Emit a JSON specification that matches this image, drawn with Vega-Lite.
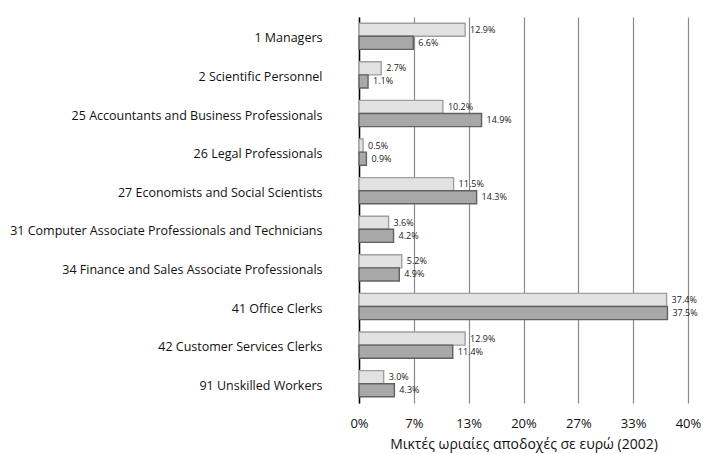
{
  "$schema": "https://vega.github.io/schema/vega-lite/v6.json",
  "width": 329,
  "height": 386,
  "autosize": {"type": "none"},
  "padding": {"left": 359, "top": 17, "right": 15, "bottom": 51},
  "background": "white",
  "config": {
    "view": {"stroke": null},
    "font": "Open Sans"
  },
  "data": {
    "values": [
      {"cat": "1 Managers", "series": "a", "v": 0.129},
      {"cat": "1 Managers", "series": "b", "v": 0.066},
      {"cat": "2 Scientific Personnel", "series": "a", "v": 0.027},
      {"cat": "2 Scientific Personnel", "series": "b", "v": 0.011},
      {"cat": "25 Accountants and Business Professionals", "series": "a", "v": 0.102},
      {"cat": "25 Accountants and Business Professionals", "series": "b", "v": 0.149},
      {"cat": "26 Legal Professionals", "series": "a", "v": 0.005},
      {"cat": "26 Legal Professionals", "series": "b", "v": 0.009},
      {"cat": "27 Economists and Social Scientists", "series": "a", "v": 0.115},
      {"cat": "27 Economists and Social Scientists", "series": "b", "v": 0.143},
      {"cat": "31 Computer Associate Professionals and Technicians", "series": "a", "v": 0.036},
      {"cat": "31 Computer Associate Professionals and Technicians", "series": "b", "v": 0.042},
      {"cat": "34 Finance and Sales Associate Professionals", "series": "a", "v": 0.052},
      {"cat": "34 Finance and Sales Associate Professionals", "series": "b", "v": 0.049},
      {"cat": "41 Office Clerks", "series": "a", "v": 0.374},
      {"cat": "41 Office Clerks", "series": "b", "v": 0.375},
      {"cat": "42 Customer Services Clerks", "series": "a", "v": 0.129},
      {"cat": "42 Customer Services Clerks", "series": "b", "v": 0.114},
      {"cat": "91 Unskilled Workers", "series": "a", "v": 0.030},
      {"cat": "91 Unskilled Workers", "series": "b", "v": 0.043}
    ]
  },
  "encoding": {
    "y": {
      "field": "cat",
      "type": "nominal",
      "sort": null,
      "scale": {"paddingInner": 0.32, "paddingOuter": 0.16},
      "axis": {
        "title": null,
        "ticks": false,
        "labelFontSize": 12.5,
        "labelColor": "#111",
        "labelPadding": 37,
        "labelOffset": 2,
        "labelLimit": 400,
        "domainColor": "#000",
        "domainWidth": 1.5,
        "grid": false
      }
    },
    "yOffset": {"field": "series", "type": "nominal", "sort": ["a", "b"]},
    "x": {
      "field": "v",
      "type": "quantitative",
      "scale": {"domain": [0, 0.4], "nice": false},
      "axis": {
        "values": [0, 0.0666667, 0.1333333, 0.2, 0.2666667, 0.3333333, 0.4],
        "format": ".0%",
        "title": "Μικτές ωριαίες αποδοχές σε ευρώ (2002)",
        "titleFontSize": 14,
        "titleFontWeight": "normal",
        "titleColor": "#111",
        "titlePadding": 7,
        "labelFontSize": 13,
        "labelColor": "#111",
        "labelPadding": 14,
        "labelFlush": false,
        "labelOverlap": false,
        "ticks": false,
        "domain": false,
        "grid": true,
        "gridColor": "#8a8a8a",
        "gridWidth": 1.2,
        "gridOpacity": 1
      }
    }
  },
  "layer": [
    {
      "mark": {"type": "bar", "strokeWidth": 1.4},
      "encoding": {
        "fill": {
          "field": "series",
          "type": "nominal",
          "scale": {"domain": ["a", "b"], "range": ["#e2e2e2", "#a8a8a8"]},
          "legend": null
        },
        "stroke": {
          "field": "series",
          "type": "nominal",
          "scale": {"domain": ["a", "b"], "range": ["#a0a0a0", "#616161"]},
          "legend": null
        }
      }
    },
    {
      "mark": {"type": "text", "align": "left", "baseline": "middle", "dx": 5, "fontSize": 9, "fill": "#222"},
      "encoding": {
        "text": {"field": "v", "type": "quantitative", "format": ".1%"}
      }
    }
  ]
}
